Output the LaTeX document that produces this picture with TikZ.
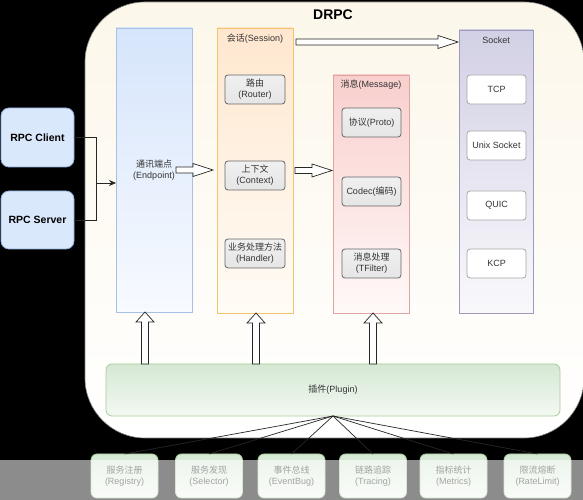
\documentclass[tikz,border=0pt]{standalone}
\usepackage{fontspec}
\setmainfont{Liberation Sans}
\newfontfamily\cjk{Noto Sans CJK SC}
\usetikzlibrary{arrows.meta,calc}
\newcommand\zh[1]{{\cjk #1}}
\definecolor{txt}{HTML}{333333}
\definecolor{epTop}{HTML}{D6E5FB}
\definecolor{epBot}{HTML}{F7FAFF}
\definecolor{epLine}{HTML}{A9C0E6}
\definecolor{seTop}{HTML}{FFE7CF}
\definecolor{seBot}{HTML}{FFFCF6}
\definecolor{seLine}{HTML}{F2C46E}
\definecolor{msTop}{HTML}{F8CFCD}
\definecolor{msBot}{HTML}{FFF9F8}
\definecolor{msLine}{HTML}{E2A4A2}
\definecolor{soTop}{HTML}{D2D0E4}
\definecolor{soBot}{HTML}{F9F9FC}
\definecolor{soLine}{HTML}{9D9ABD}
\definecolor{grTop}{HTML}{D5E8D4}
\definecolor{grBot}{HTML}{F3F9F2}
\definecolor{grLine}{HTML}{A8CC98}
\definecolor{rpcFill}{HTML}{DAE8FC}
\definecolor{rpcLine}{HTML}{8EACDA}
\definecolor{conTop}{HTML}{FCF7EA}
\definecolor{conBot}{HTML}{FFFFFF}
\newcommand\rarrow[2]{%
  \draw[flex] let \p1=#1, \p2=#2 in
    (\x1,\y1+3) -- (\x2-20,\y1+3) -- (\x2-20,\y1+6.5) -- (\x2,\y1)
    -- (\x2-20,\y1-6.5) -- (\x2-20,\y1-3) -- (\x1,\y1-3) -- cycle;}
\newcommand\uarrow[2]{%
  \draw[flex] let \p1=#1, \p2=#2 in
    (\x1-3.5,\y1) -- (\x1-3.5,\y2-10) -- (\x1-9,\y2-10) -- (\x1,\y2)
    -- (\x1+9,\y2-10) -- (\x1+3.5,\y2-10) -- (\x1+3.5,\y1) -- cycle;}
\begin{document}
\begin{tikzpicture}[x=1pt,y=1pt,
  base/.style={inner sep=0pt, outer sep=0pt, align=center, text=txt,
    font=\fontsize{9}{11}\selectfont},
  column/.style={base, draw, line width=0.7pt, anchor=north west},
  inner/.style={base, draw=black!60, line width=0.8pt, rounded corners=3pt,
    anchor=north west, minimum width=60pt, minimum height=29pt,
    top color=white!94!black, bottom color=white!90!black},
  sockbox/.style={base, draw=black!35, line width=0.8pt, rounded corners=3pt,
    anchor=north west, minimum width=59pt, minimum height=29pt, fill=white},
  lbl/.style={base},
  rpc/.style={base, draw=rpcLine, fill=rpcFill, line width=0.8pt,
    rounded corners=8pt, anchor=north west, minimum width=73pt,
    font=\fontsize{10.5}{12}\selectfont\bfseries, text=black},
  plug/.style={base, draw=grLine, line width=0.8pt, rounded corners=6pt,
    top color=grTop, bottom color=grBot, anchor=north, minimum width=67pt,
    minimum height=44pt},
  flex/.style={draw=black!85, fill=white, line width=0.7pt, line join=miter},
  wire/.style={draw=black!85, line width=0.7pt}]
\useasboundingbox (0,0) rectangle (583,500);
\fill[black] (0,0) rectangle (583,500);

% main container
\node[base, draw=black!50, line width=0.6pt, rounded corners=60pt,
  top color=conTop, bottom color=conBot, anchor=north west,
  minimum width=499pt, minimum height=436pt] (drpc) at (85,498) {};
\node[base, font=\fontsize{14}{16}\selectfont\bfseries, text=black]
  (title) at (333,485) {DRPC};

% RPC client / server
\node[rpc, minimum height=59pt] (cli) at (1,392) {RPC Client};
\node[rpc, minimum height=58pt] (srv) at (1,309) {RPC Server};

% endpoint
\node[column, draw=epLine, top color=epTop, bottom color=epBot,
  minimum width=76pt, minimum height=284pt] (ep) at (116,472)
  {\zh{通讯端点}\\(Endpoint)};

% session
\node[column, draw=seLine, top color=seTop, bottom color=seBot,
  minimum width=76pt, minimum height=285pt] (sess) at (217,472) {};
\node[lbl] (sesslbl) at (255,461) {\zh{会话}(Session)};
\node[inner] (router) at (225,425) {\zh{路由}\\(Router)};
\node[inner] (ctx) at (225,339) {\zh{上下文}\\(Context)};
\node[inner] (handler) at (225,261) {\zh{业务处理方法}\\(Handler)};

% message
\node[column, draw=msLine, top color=msTop, bottom color=msBot,
  minimum width=76pt, minimum height=238pt] (msg) at (333,425) {};
\node[lbl] (msglbl) at (371,415) {\zh{消息}(Message)};
\node[inner, minimum width=59pt] (proto) at (342,392) {\zh{协议}(Proto)};
\node[inner, minimum width=59pt] (codec) at (342,323) {Codec(\zh{编码})};
\node[inner, minimum width=59pt] (tfilter) at (342,251) {\zh{消息处理}\\(TFilter)};

% socket
\node[column, draw=soLine, top color=soTop, bottom color=soBot,
  minimum width=74pt, minimum height=283pt] (sock) at (459,470) {};
\node[lbl] (socklbl) at (496,460) {Socket};
\node[sockbox] (tcp) at (467,425) {TCP};
\node[sockbox] (unix) at (467,369) {Unix Socket};
\node[sockbox] (quic) at (467,309) {QUIC};
\node[sockbox] (kcp) at (467,251) {KCP};

% plugin
\node[base, draw=grLine, line width=0.8pt, rounded corners=6pt,
  top color=grTop, bottom color=grBot, anchor=north west,
  minimum width=454pt, minimum height=52pt] (plugin) at (106,136)
  {\zh{插件}(Plugin)};

% plugin items
\node[plug] (reg) at (124.5,46) {\zh{服务注册}\\(Registry)};
\node[plug] (sel) at (209,46) {\zh{服务发现}\\(Selector)};
\node[plug] (evb) at (291.5,46) {\zh{事件总线}\\(EventBug)};
\node[plug] (trc) at (373,46) {\zh{链路追踪}\\(Tracing)};
\node[plug] (met) at (453.5,46) {\zh{指标统计}\\(Metrics)};
\node[plug] (rl) at (537.5,46) {\zh{限流熔断}\\(RateLimit)};

% connectors client/server -> endpoint
\coordinate (j) at (96,317);
\draw[wire] (cli.east) -| (j);
\draw[wire] (srv.east) -| (j);
\draw[wire, -{Stealth[length=7pt,width=6pt]}] (j) -- (j -| ep.west);

% block arrows
\rarrow{($(ep.east)+(-16,0)$)}{($(sess.west)+(-4,0)$)}
\rarrow{($(sess.east)+(2,0)$)}{($(msg.west)+(-1,0)$)}
\rarrow{($(sess.north east)+(3,-14)$)}{($(sock.north west)+(-1,-12)$)}
\uarrow{($(plugin.north west)+(39,0)$)}{(ep.south)}
\uarrow{($(plugin.north west)+(150,0)$)}{(sess.south)}
\uarrow{($(plugin.north west)+(267,0)$)}{(msg.south)}

% plugin -> items
\foreach \t in {reg,sel,evb,trc,met,rl}
  \draw[wire] (plugin.south) -- (\t.north);

% grey band across the bottom
\fill[white, opacity=0.55] (0,0) rectangle (583,40);
\end{tikzpicture}
\end{document}
